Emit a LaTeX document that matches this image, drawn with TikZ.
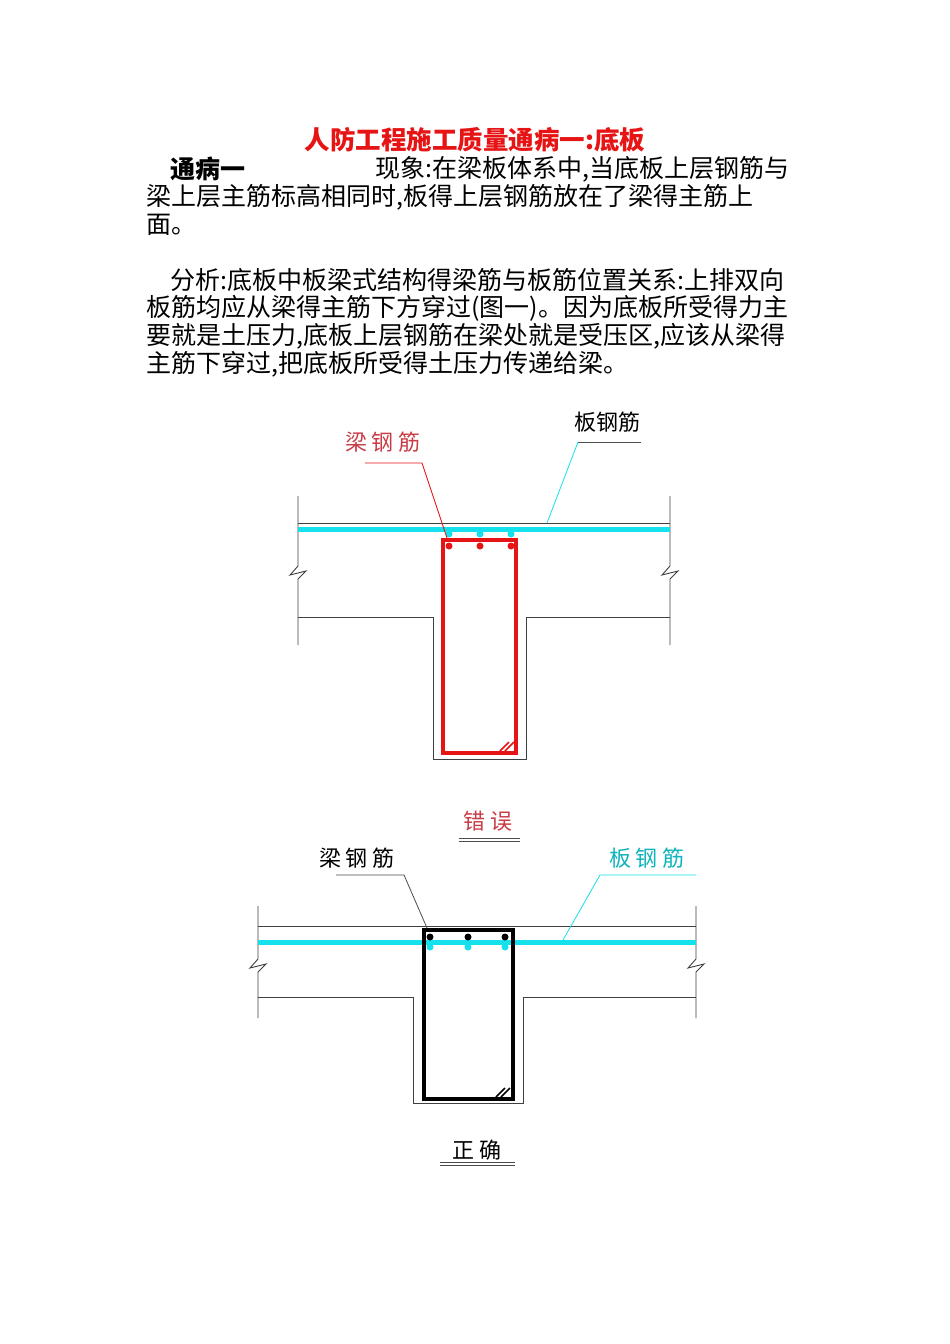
\documentclass[tikz,border=0pt]{standalone}
\usepackage{fontspec}
\setmainfont{Noto Sans CJK SC}
\definecolor{cy}{RGB}{20,225,235}
\definecolor{rd}{RGB}{230,20,20}
\definecolor{lbl}{RGB}{200,60,70}
\begin{document}
\begin{tikzpicture}[x=1pt,y=-1pt,
  body/.style={anchor=west,inner sep=0,font=\fontsize{25}{27}\selectfont},
  outl/.style={draw=black!75,line width=0.9pt},
  slabbar/.style={draw=cy,line width=5pt},
  lead/.style={line width=0.8pt},
  lab/.style={inner sep=0,font=\fontsize{22}{24}\selectfont}]
\useasboundingbox[fill=white] (0,0) rectangle (950,1344);
% text
\node[inner sep=0,font=\fontsize{25.5}{27}\selectfont\bfseries,text=rd] (title) at (475,140) {人防工程施工质量通病一:底板};
\node[body] (l1a) at (170,169) {\textbf{通病一}};
\node[body] (l1b) at (375,169) {现象:在梁板体系中,当底板上层钢筋与};
\node[body] (l2) at (146,197) {梁上层主筋标高相同时,板得上层钢筋放在了梁得主筋上};
\node[body] (l3) at (146,225) {面。};
\node[body] (l4) at (170,280) {分析:底板中板梁式结构得梁筋与板筋位置关系:上排双向};
\node[body] (l5) at (146,308) {板筋均应从梁得主筋下方穿过(图一)。因为底板所受得力主};
\node[body] (l6) at (146,336) {要就是土压力,底板上层钢筋在梁处就是受压区,应该从梁得};
\node[body] (l7) at (146,364) {主筋下穿过,把底板所受得土压力传递给梁。};
% ===== top diagram =====
\draw[outl] (298,496) -- (298,566) -- (290,575) -- (306,571) -- (298,579) -- (298,645);
\draw[outl] (670,496) -- (670,566) -- (662,575) -- (678,571) -- (670,579) -- (670,645);
\draw[outl] (298,523) -- (670,523);
\draw[outl] (298,617) -- (433,617) -- (433,759) -- (526,759) -- (526,617) -- (670,617);
\draw[slabbar] (298,529) -- (670,529);
\draw[draw=rd,line width=4pt] (443,540) rectangle (516,753);
\draw[rd,line width=1.5pt] (500,751) -- (509,742) (505,751) -- (514,742);
\foreach \x in {449,480,511}{\fill[rd] (\x,546) circle (3.5pt); \fill[cy] (\x,534) circle (3.5pt);}
\node[lab,text=lbl] (lb1) at (383,442) {梁 钢 筋};
\coordinate (lb1a) at (365,463); \coordinate (lb1b) at (422,463); \coordinate (lb1c) at (447,538);
\draw[rd,lead] (lb1a) -- (lb1b) -- (lb1c);
\node[lab] (sb1) at (607,422) {板钢筋};
\coordinate (sb1a) at (641,442); \coordinate (sb1b) at (578,442); \coordinate (sb1c) at (547,523);
\draw[black!70,lead] (sb1a) -- (sb1b);
\draw[cy,lead] (sb1b) -- (sb1c);
\node[lab,text=lbl] (cw) at (488,821) {错 误};
\draw[black!70,line width=0.8pt] (459,838) -- (520,838) (459,841) -- (520,841);
% ===== bottom diagram =====
\draw[outl] (258,906) -- (258,959) -- (250,968) -- (266,964) -- (258,972) -- (258,1018);
\draw[outl] (696,906) -- (696,959) -- (688,968) -- (704,964) -- (696,972) -- (696,1018);
\draw[outl] (258,926) -- (696,926);
\draw[outl] (258,997) -- (413,997) -- (413,1103) -- (523,1103) -- (523,997) -- (696,997);
\draw[slabbar] (258,942) -- (696,942);
\draw[draw=black,line width=3.5pt] (424,930) rectangle (513,1099);
\draw[black,line width=1.5pt] (496,1097) -- (505,1088) (501,1097) -- (510,1088);
\foreach \x in {430,468,505}{\fill[black] (\x,937) circle (3.5pt); \fill[cy] (\x,947) circle (3.5pt);}
\node[lab] (lb2) at (357,858) {梁 钢 筋};
\coordinate (lb2a) at (336,875); \coordinate (lb2b) at (404,875); \coordinate (lb2c) at (427,928);
\draw[black!70,lead] (lb2a) -- (lb2b) -- (lb2c);
\node[lab,text=cy!80!black] (sb2) at (647,858) {板 钢 筋};
\coordinate (sb2a) at (696,875); \coordinate (sb2b) at (600,875); \coordinate (sb2c) at (563,940);
\draw[cy,lead] (sb2a) -- (sb2b) -- (sb2c);
\node[lab] (zq) at (477,1150) {正 确};
\draw[black!70,line width=0.8pt] (440,1162) -- (515,1162) (440,1165) -- (515,1165);
\end{tikzpicture}
\end{document}
